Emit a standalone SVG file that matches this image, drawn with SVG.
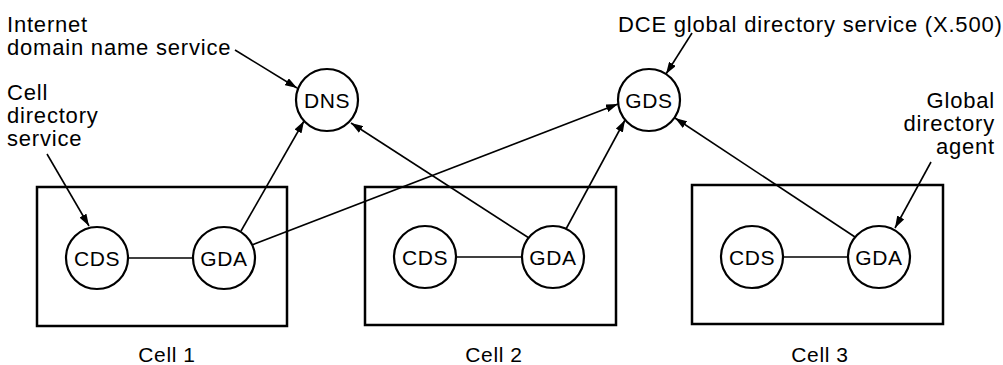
<svg xmlns="http://www.w3.org/2000/svg" width="1003" height="365" viewBox="0 0 1003 365">
<style>
.bg{fill:#fff}
.cell{fill:none;stroke:#000;stroke-width:2.5}
.node{fill:#fff;stroke:#000;stroke-width:2.2}
.lbl{font-family:"Liberation Sans",Arial,sans-serif;font-size:21px;letter-spacing:0.6px;text-anchor:middle;fill:#000}
.ann{font-family:"Liberation Sans",Arial,sans-serif;font-size:22px;letter-spacing:0.8px;fill:#000}
.edge{stroke:#000;stroke-width:1.6;fill:none}
.arr{marker-end:url(#ah)}
</style>
<defs>
<marker id="ah" markerUnits="userSpaceOnUse" markerWidth="12" markerHeight="8" refX="12" refY="4" orient="auto">
<path d="M0,0 L12,4 L0,8 z" fill="#000"/>
</marker>
</defs>
<rect class="bg" x="0" y="0" width="1003" height="365"/>

<g id="cell1">
<rect class="cell" x="37" y="187" width="250" height="139"/>
<text class="lbl" x="167" y="362">Cell 1</text>
</g>
<g id="cell2">
<rect class="cell" x="365" y="187" width="251" height="138"/>
<text class="lbl" x="494" y="362">Cell 2</text>
</g>
<g id="cell3">
<rect class="cell" x="692" y="185" width="251" height="139"/>
<text class="lbl" x="820" y="362">Cell 3</text>
</g>

<g id="connectors">
<line class="edge" x1="128" y1="258" x2="193" y2="258"/>
<line class="edge" x1="456" y1="257" x2="522" y2="257"/>
<line class="edge" x1="783" y1="257" x2="848" y2="257"/>
<line class="edge arr" x1="241" y1="231" x2="304" y2="121"/>
<line class="edge arr" x1="252" y1="245" x2="618" y2="104"/>
<line class="edge arr" x1="529" y1="238" x2="351" y2="123"/>
<line class="edge arr" x1="566" y1="229" x2="625" y2="120"/>
<line class="edge arr" x1="855" y1="237" x2="675" y2="118"/>
<line class="edge arr" x1="235" y1="50" x2="297" y2="88"/>
<line class="edge arr" x1="47" y1="154" x2="89" y2="226"/>
<line class="edge arr" x1="692" y1="33" x2="666" y2="74"/>
<line class="edge arr" x1="931" y1="162" x2="895" y2="228"/>
</g>

<g id="dns">
<circle class="node" cx="327" cy="100" r="31"/>
<text class="lbl" x="327" y="108">DNS</text>
</g>
<g id="gds">
<circle class="node" cx="649" cy="100" r="31"/>
<text class="lbl" x="649" y="108">GDS</text>
</g>
<g id="cds1">
<circle class="node" cx="97" cy="258" r="31"/>
<text class="lbl" x="97" y="266">CDS</text>
</g>
<g id="gda1">
<circle class="node" cx="224" cy="258" r="31"/>
<text class="lbl" x="224" y="266">GDA</text>
</g>
<g id="cds2">
<circle class="node" cx="425" cy="257" r="31"/>
<text class="lbl" x="425" y="265">CDS</text>
</g>
<g id="gda2">
<circle class="node" cx="553" cy="257" r="31"/>
<text class="lbl" x="553" y="265">GDA</text>
</g>
<g id="cds3">
<circle class="node" cx="752" cy="257" r="31"/>
<text class="lbl" x="752" y="265">CDS</text>
</g>
<g id="gda3">
<circle class="node" cx="879" cy="257" r="31"/>
<text class="lbl" x="879" y="265">GDA</text>
</g>

<g id="annotations">
<text class="ann" x="7" y="32">Internet</text>
<text class="ann" x="7" y="55">domain name service</text>
<text class="ann" x="7" y="100">Cell</text>
<text class="ann" x="7" y="123">directory</text>
<text class="ann" x="7" y="146">service</text>
<text class="ann" x="618" y="32">DCE global directory service (X.500)</text>
<text class="ann" x="995" y="108" text-anchor="end">Global</text>
<text class="ann" x="995" y="131" text-anchor="end">directory</text>
<text class="ann" x="995" y="154" text-anchor="end">agent</text>
</g>
</svg>
